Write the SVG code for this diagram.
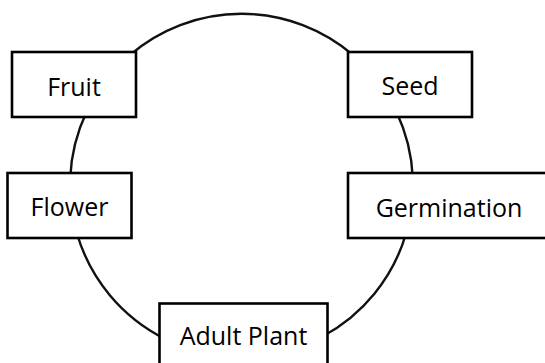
<svg xmlns="http://www.w3.org/2000/svg" width="545" height="363" viewBox="0 0 545 363">
  <style>
    .box { fill: #ffffff; stroke: #000000; stroke-width: 2.6; }
    .arc { fill: none; stroke: #111111; stroke-width: 2.4; }
    .lbl { font-family: "Open Sans", "Liberation Sans", sans-serif; font-size: 25px; fill: #000000; text-anchor: middle; }
  </style>
  <rect x="0" y="0" width="545" height="363" fill="#ffffff"/>
  <g id="connectors">
    <path class="arc" d="M130,55 A171.5,171.5 0 0 1 353,55"/>
    <path class="arc" d="M396.5,112 A171.5,171.5 0 0 1 412.8,178"/>
    <path class="arc" d="M406.2,233 A171.5,171.5 0 0 1 322,336.7"/>
    <path class="arc" d="M165,338.8 A171.5,171.5 0 0 1 76.8,233"/>
    <path class="arc" d="M70.2,178 A171.5,171.5 0 0 1 86.5,112"/>
  </g>
  <g id="fruit">
    <rect class="box" x="12" y="52" width="124" height="65"/>
    <text class="lbl" x="74" y="96">Fruit</text>
  </g>
  <g id="seed">
    <rect class="box" x="348" y="52" width="124" height="65"/>
    <text class="lbl" x="410" y="95">Seed</text>
  </g>
  <g id="flower">
    <rect class="box" x="7.5" y="173" width="124" height="65"/>
    <text class="lbl" x="69.5" y="216">Flower</text>
  </g>
  <g id="germination">
    <rect class="box" x="348" y="173" width="210" height="65"/>
    <text class="lbl" x="449" y="216.5">Germination</text>
  </g>
  <g id="adult-plant">
    <rect class="box" x="159.5" y="303.5" width="168" height="70"/>
    <text class="lbl" x="243.5" y="345">Adult Plant</text>
  </g>
</svg>
